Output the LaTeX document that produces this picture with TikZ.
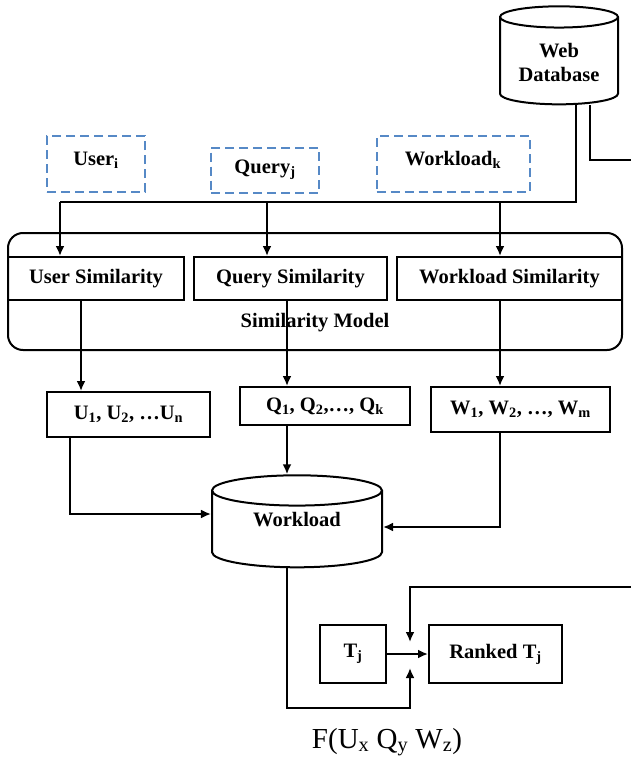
\documentclass[tikz,border=0pt]{standalone}
\usepackage{fontspec}
\setmainfont{Liberation Serif}
\usetikzlibrary{shapes.geometric,arrows.meta}
\definecolor{dashblue}{RGB}{86,137,198}
\tikzset{every path/.style={line width=2pt},
  every node/.style={font=\fontsize{20.5}{24}\selectfont\bfseries, inner sep=2pt},
  box/.style 2 args={draw, rectangle, minimum width=#1, minimum height=#2},
  dbox/.style 2 args={draw=dashblue, dash pattern=on 9pt off 5pt, rectangle, minimum width=#1, minimum height=#2},
  db/.style 2 args={draw, cylinder, shape border rotate=90, aspect=0.25, minimum width=#1, minimum height=#2, align=center},
  arr/.style={-{Latex[length=10pt,width=9pt]}}}

\begin{document}
\begin{tikzpicture}[x=1pt,y=-1pt]
   \useasboundingbox (0,0) rectangle (631,760);
   % sources
   \node[db={118pt}{98pt}] (webdb) at (559,62.5) {Web\\Database};
   \node[dbox={98pt}{56pt}] (useri) at (96,164) {\raisebox{4pt}[\height][\depth]{User\textsubscript{i}}};
   \node[dbox={108pt}{45pt}] (queryj) at (265,170) {Query\textsubscript{j}};
   \node[dbox={153pt}{56pt}] (workloadk) at (453,164) {\raisebox{4pt}[\height][\depth]{Workload\textsubscript{k}}};
   % similarity model
   \node[draw, rounded corners=15pt, minimum width=614pt, minimum height=117pt] (simmodel) at (315,291.5) {};
   \node (simlabel) at (315,323) {Similarity Model};
   \node[box={176pt}{43pt}] (usim) at (96,278.5) {User Similarity};
   \node[box={193pt}{43pt}] (qsim) at (290.5,278.5) {Query Similarity};
   \node[box={225pt}{43pt}] (wsim) at (509.5,278.5) {Workload Similarity};
   % similar sets
   \node[box={163pt}{45pt}] (ulist) at (128.5,414.5) {U\textsubscript{1}, U\textsubscript{2}, \ldots U\textsubscript{n}};
   \node[box={170pt}{38pt}] (qlist) at (325,406) {Q\textsubscript{1}, Q\textsubscript{2},\ldots, Q\textsubscript{k}};
   \node[box={179pt}{45pt}] (wlist) at (520.5,409.5) {W\textsubscript{1}, W\textsubscript{2}, \ldots, W\textsubscript{m}};
   \node[db={170pt}{92pt}, aspect=0.33] (wl) at (297,531) {\raisebox{11pt}[\height][\depth]{Workload}};
   % ranking
   \node[box={66pt}{58pt}] (tj) at (353,654) {T\textsubscript{j}};
   \node[box={133pt}{58pt}] (ranked) at (495.5,654) {Ranked T\textsubscript{j}};
   \node[font=\fontsize{29}{33}\selectfont] (fscore) at (387,742) {F(U\textsubscript{x} Q\textsubscript{y} W\textsubscript{z})};

   \coordinate (bus) at (576,202);
   \coordinate (busU) at (60,202);
   \coordinate (busQ) at (267,202);
   \coordinate (busW) at (500,202);
   \coordinate (dbtap) at (590,160);
   \coordinate (dbout) at (631,160);
   \coordinate (laneU) at (81,0);
   \coordinate (laneQ) at (287,0);
   \coordinate (laneW) at (500,0);
   \coordinate (laneUL) at (70,0);
   \coordinate (rowL) at (0,514);
   \coordinate (rowR) at (0,527);
   \coordinate (rankin) at (631,587);
   \coordinate (rtop) at (410,642);
   \coordinate (fjoin) at (410,708);
   \coordinate (fbot) at (410,668);

   \draw (webdb.south -| bus) -- (bus) -- (busU);
   \draw (webdb.south -| dbtap) -- (dbtap) -- (dbout);
   \draw[arr] (busU) -- (busU |- usim.north);
   \draw[arr] (busQ) -- (busQ |- qsim.north);
   \draw[arr] (busW) -- (busW |- wsim.north);
   \draw[arr] (usim.south -| laneU) -- (ulist.north -| laneU);
   \draw[arr] (qsim.south -| laneQ) -- (qlist.north -| laneQ);
   \draw[arr] (wsim.south -| laneW) -- (wlist.north -| laneW);
   \draw[arr] (ulist.south -| laneUL) |- (wl.west |- rowL);
   \draw[arr] (qlist.south -| laneQ) -- (wl.north -| laneQ);
   \draw[arr] (wlist.south -| laneW) |- (wl.east |- rowR);
   \draw[arr] (wl.south -| laneQ) |- (fjoin) -- (fbot);
   \draw[arr] (rankin) -| (rtop);
   \draw[arr] (tj) -- (ranked);
  \end{tikzpicture}
\end{document}
